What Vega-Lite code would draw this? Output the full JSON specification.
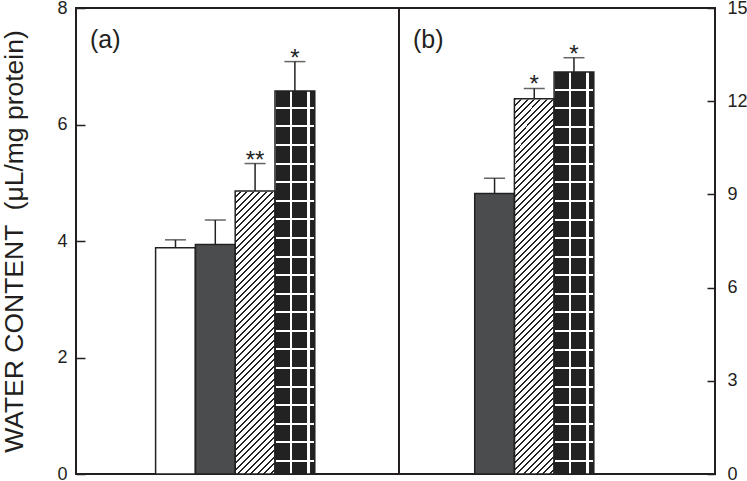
{
  "$schema": "https://vega.github.io/schema/vega-lite/v6.json",
  "background": "white",
  "padding": {"left": 0, "top": -2, "right": 1, "bottom": -1},
  "datasets": {
    "a": [
      {"group": "g1", "value": 3.885, "upper": 4.02, "sig": ""},
      {"group": "g2", "value": 3.94, "upper": 4.36, "sig": ""},
      {"group": "g3", "value": 4.86, "upper": 5.33, "sig": "**"},
      {"group": "g4", "value": 6.575, "upper": 7.08, "sig": "*"}
    ],
    "b": [
      {"group": "g2", "value": 9.03, "upper": 9.52, "sig": ""},
      {"group": "g3", "value": 12.08, "upper": 12.41, "sig": "*"},
      {"group": "g4", "value": 12.94, "upper": 13.4, "sig": "*"}
    ]
  },
  "spacing": 0,
  "bounds": "flush",
  "hconcat": [
    {
      "width": 323,
      "height": 466,
      "title": {"text": "(a)", "anchor": "start", "frame": "group", "orient": "top", "offset": -74, "dx": 14, "fontSize": 25, "fontWeight": "normal", "font": "Liberation Sans", "color": "#231f20", "baseline": "alphabetic"},
      "data": {"name": "a"},
      "layer": [
        {
          "mark": {"type": "bar", "strokeWidth": 0},
          "encoding": {
            "x": {"field": "group", "type": "nominal", "scale": {"domain": ["p1", "p2", "g1", "g2", "g3", "g4", "p3", "p4"], "paddingInner": 0, "paddingOuter": 0.058, "align": 0}, "axis": null},
            "y": {"field": "value", "type": "quantitative", "scale": {"domain": [0, 8], "nice": false}, "axis": {"values": [0, 2, 4, 6, 8], "format": "d", "tickSize": -9, "labelPadding": 18, "title": "WATER CONTENT \u00a0(μL/mg protein)", "titleFontSize": 26.5, "titlePadding": 28}},
            "fill": {"field": "group", "type": "nominal", "scale": {"domain": ["g1", "g2", "g3", "g4"], "range": ["#ffffff", "#4b4c4e", "#ffffff", "#222222"]}, "legend": null}
          }
        },
        {
          "transform": [{"filter": "datum.group === 'g4'"}],
          "mark": {"type": "bar", "strokeWidth": 0, "fill": {"gradient": "linear", "x1": 0, "y1": 0, "x2": 1, "y2": 0, "stops": [
            {"offset": 0, "color": "#222"}, {"offset": 0.365, "color": "#222"}, {"offset": 0.365, "color": "#fff"}, {"offset": 0.42, "color": "#fff"},
            {"offset": 0.42, "color": "#222"}, {"offset": 0.815, "color": "#222"}, {"offset": 0.815, "color": "#fff"}, {"offset": 0.87, "color": "#fff"},
            {"offset": 0.87, "color": "#222"}, {"offset": 1, "color": "#222"}]}},
          "encoding": {"x": {"field": "group", "type": "nominal"}, "y": {"field": "value", "type": "quantitative"}}
        },
        {
          "transform": [{"filter": "datum.group === 'g4'"}],
          "mark": {"type": "bar", "strokeWidth": 0, "fill": {"gradient": "linear", "x1": 0, "y1": 0, "x2": 0, "y2": 1, "stops": [
            {"offset": 0.1616, "color": "rgba(255,255,255,0)"}, {"offset": 0.1616, "color": "#fff"}, {"offset": 0.166, "color": "#fff"}, {"offset": 0.166, "color": "rgba(255,255,255,0)"},
            {"offset": 0.202, "color": "rgba(255,255,255,0)"}, {"offset": 0.202, "color": "#fff"}, {"offset": 0.2064, "color": "#fff"}, {"offset": 0.2064, "color": "rgba(255,255,255,0)"},
            {"offset": 0.2424, "color": "rgba(255,255,255,0)"}, {"offset": 0.2424, "color": "#fff"}, {"offset": 0.2468, "color": "#fff"}, {"offset": 0.2468, "color": "rgba(255,255,255,0)"},
            {"offset": 0.2828, "color": "rgba(255,255,255,0)"}, {"offset": 0.2828, "color": "#fff"}, {"offset": 0.2872, "color": "#fff"}, {"offset": 0.2872, "color": "rgba(255,255,255,0)"},
            {"offset": 0.3232, "color": "rgba(255,255,255,0)"}, {"offset": 0.3232, "color": "#fff"}, {"offset": 0.3276, "color": "#fff"}, {"offset": 0.3276, "color": "rgba(255,255,255,0)"},
            {"offset": 0.3636, "color": "rgba(255,255,255,0)"}, {"offset": 0.3636, "color": "#fff"}, {"offset": 0.368, "color": "#fff"}, {"offset": 0.368, "color": "rgba(255,255,255,0)"},
            {"offset": 0.404, "color": "rgba(255,255,255,0)"}, {"offset": 0.404, "color": "#fff"}, {"offset": 0.4084, "color": "#fff"}, {"offset": 0.4084, "color": "rgba(255,255,255,0)"},
            {"offset": 0.4444, "color": "rgba(255,255,255,0)"}, {"offset": 0.4444, "color": "#fff"}, {"offset": 0.4488, "color": "#fff"}, {"offset": 0.4488, "color": "rgba(255,255,255,0)"},
            {"offset": 0.4848, "color": "rgba(255,255,255,0)"}, {"offset": 0.4848, "color": "#fff"}, {"offset": 0.4892, "color": "#fff"}, {"offset": 0.4892, "color": "rgba(255,255,255,0)"},
            {"offset": 0.5252, "color": "rgba(255,255,255,0)"}, {"offset": 0.5252, "color": "#fff"}, {"offset": 0.5296, "color": "#fff"}, {"offset": 0.5296, "color": "rgba(255,255,255,0)"},
            {"offset": 0.5656, "color": "rgba(255,255,255,0)"}, {"offset": 0.5656, "color": "#fff"}, {"offset": 0.57, "color": "#fff"}, {"offset": 0.57, "color": "rgba(255,255,255,0)"},
            {"offset": 0.606, "color": "rgba(255,255,255,0)"}, {"offset": 0.606, "color": "#fff"}, {"offset": 0.6104, "color": "#fff"}, {"offset": 0.6104, "color": "rgba(255,255,255,0)"},
            {"offset": 0.6464, "color": "rgba(255,255,255,0)"}, {"offset": 0.6464, "color": "#fff"}, {"offset": 0.6508, "color": "#fff"}, {"offset": 0.6508, "color": "rgba(255,255,255,0)"},
            {"offset": 0.6868, "color": "rgba(255,255,255,0)"}, {"offset": 0.6868, "color": "#fff"}, {"offset": 0.6912, "color": "#fff"}, {"offset": 0.6912, "color": "rgba(255,255,255,0)"},
            {"offset": 0.7272, "color": "rgba(255,255,255,0)"}, {"offset": 0.7272, "color": "#fff"}, {"offset": 0.7316, "color": "#fff"}, {"offset": 0.7316, "color": "rgba(255,255,255,0)"},
            {"offset": 0.7676, "color": "rgba(255,255,255,0)"}, {"offset": 0.7676, "color": "#fff"}, {"offset": 0.772, "color": "#fff"}, {"offset": 0.772, "color": "rgba(255,255,255,0)"},
            {"offset": 0.808, "color": "rgba(255,255,255,0)"}, {"offset": 0.808, "color": "#fff"}, {"offset": 0.8124, "color": "#fff"}, {"offset": 0.8124, "color": "rgba(255,255,255,0)"},
            {"offset": 0.8484, "color": "rgba(255,255,255,0)"}, {"offset": 0.8484, "color": "#fff"}, {"offset": 0.8528, "color": "#fff"}, {"offset": 0.8528, "color": "rgba(255,255,255,0)"},
            {"offset": 0.8888, "color": "rgba(255,255,255,0)"}, {"offset": 0.8888, "color": "#fff"}, {"offset": 0.8932, "color": "#fff"}, {"offset": 0.8932, "color": "rgba(255,255,255,0)"},
            {"offset": 0.9292, "color": "rgba(255,255,255,0)"}, {"offset": 0.9292, "color": "#fff"}, {"offset": 0.9336, "color": "#fff"}, {"offset": 0.9336, "color": "rgba(255,255,255,0)"},
            {"offset": 0.9696, "color": "rgba(255,255,255,0)"}, {"offset": 0.9696, "color": "#fff"}, {"offset": 0.974, "color": "#fff"}, {"offset": 0.974, "color": "rgba(255,255,255,0)"}]}},
          "encoding": {"x": {"field": "group", "type": "nominal"}, "y": {"datum": 0, "type": "quantitative"}, "y2": {"datum": 7.9}}
        },
        {
          "transform": [{"filter": "datum.group === 'g3'"}],
          "mark": {"type": "bar", "strokeWidth": 0, "fill": {"gradient": "linear", "x1": 0, "y1": 0, "x2": 0.0933, "y2": 1.0785, "stops": [
            {"offset": 0, "color": "#222"}, {"offset": 0.004, "color": "#222"}, {"offset": 0.004, "color": "#fff"}, {"offset": 0.013, "color": "#fff"},
            {"offset": 0.013, "color": "#222"}, {"offset": 0.017, "color": "#222"}, {"offset": 0.017, "color": "#fff"}, {"offset": 0.026, "color": "#fff"},
            {"offset": 0.026, "color": "#222"}, {"offset": 0.03, "color": "#222"}, {"offset": 0.03, "color": "#fff"}, {"offset": 0.039, "color": "#fff"},
            {"offset": 0.039, "color": "#222"}, {"offset": 0.043, "color": "#222"}, {"offset": 0.043, "color": "#fff"}, {"offset": 0.052, "color": "#fff"},
            {"offset": 0.052, "color": "#222"}, {"offset": 0.056, "color": "#222"}, {"offset": 0.056, "color": "#fff"}, {"offset": 0.065, "color": "#fff"},
            {"offset": 0.065, "color": "#222"}, {"offset": 0.069, "color": "#222"}, {"offset": 0.069, "color": "#fff"}, {"offset": 0.078, "color": "#fff"},
            {"offset": 0.078, "color": "#222"}, {"offset": 0.082, "color": "#222"}, {"offset": 0.082, "color": "#fff"}, {"offset": 0.091, "color": "#fff"},
            {"offset": 0.091, "color": "#222"}, {"offset": 0.095, "color": "#222"}, {"offset": 0.095, "color": "#fff"}, {"offset": 0.104, "color": "#fff"},
            {"offset": 0.104, "color": "#222"}, {"offset": 0.108, "color": "#222"}, {"offset": 0.108, "color": "#fff"}, {"offset": 0.117, "color": "#fff"},
            {"offset": 0.117, "color": "#222"}, {"offset": 0.121, "color": "#222"}, {"offset": 0.121, "color": "#fff"}, {"offset": 0.13, "color": "#fff"},
            {"offset": 0.13, "color": "#222"}, {"offset": 0.134, "color": "#222"}, {"offset": 0.134, "color": "#fff"}, {"offset": 0.143, "color": "#fff"},
            {"offset": 0.143, "color": "#222"}, {"offset": 0.147, "color": "#222"}, {"offset": 0.147, "color": "#fff"}, {"offset": 0.156, "color": "#fff"},
            {"offset": 0.156, "color": "#222"}, {"offset": 0.16, "color": "#222"}, {"offset": 0.16, "color": "#fff"}, {"offset": 0.169, "color": "#fff"},
            {"offset": 0.169, "color": "#222"}, {"offset": 0.173, "color": "#222"}, {"offset": 0.173, "color": "#fff"}, {"offset": 0.182, "color": "#fff"},
            {"offset": 0.182, "color": "#222"}, {"offset": 0.186, "color": "#222"}, {"offset": 0.186, "color": "#fff"}, {"offset": 0.195, "color": "#fff"},
            {"offset": 0.195, "color": "#222"}, {"offset": 0.199, "color": "#222"}, {"offset": 0.199, "color": "#fff"}, {"offset": 0.208, "color": "#fff"},
            {"offset": 0.208, "color": "#222"}, {"offset": 0.212, "color": "#222"}, {"offset": 0.212, "color": "#fff"}, {"offset": 0.221, "color": "#fff"},
            {"offset": 0.221, "color": "#222"}, {"offset": 0.225, "color": "#222"}, {"offset": 0.225, "color": "#fff"}, {"offset": 0.234, "color": "#fff"},
            {"offset": 0.234, "color": "#222"}, {"offset": 0.238, "color": "#222"}, {"offset": 0.238, "color": "#fff"}, {"offset": 0.247, "color": "#fff"},
            {"offset": 0.247, "color": "#222"}, {"offset": 0.251, "color": "#222"}, {"offset": 0.251, "color": "#fff"}, {"offset": 0.26, "color": "#fff"},
            {"offset": 0.26, "color": "#222"}, {"offset": 0.264, "color": "#222"}, {"offset": 0.264, "color": "#fff"}, {"offset": 0.273, "color": "#fff"},
            {"offset": 0.273, "color": "#222"}, {"offset": 0.277, "color": "#222"}, {"offset": 0.277, "color": "#fff"}, {"offset": 0.286, "color": "#fff"},
            {"offset": 0.286, "color": "#222"}, {"offset": 0.29, "color": "#222"}, {"offset": 0.29, "color": "#fff"}, {"offset": 0.299, "color": "#fff"},
            {"offset": 0.299, "color": "#222"}, {"offset": 0.303, "color": "#222"}, {"offset": 0.303, "color": "#fff"}, {"offset": 0.312, "color": "#fff"},
            {"offset": 0.312, "color": "#222"}, {"offset": 0.316, "color": "#222"}, {"offset": 0.316, "color": "#fff"}, {"offset": 0.325, "color": "#fff"},
            {"offset": 0.325, "color": "#222"}, {"offset": 0.329, "color": "#222"}, {"offset": 0.329, "color": "#fff"}, {"offset": 0.338, "color": "#fff"},
            {"offset": 0.338, "color": "#222"}, {"offset": 0.342, "color": "#222"}, {"offset": 0.342, "color": "#fff"}, {"offset": 0.351, "color": "#fff"},
            {"offset": 0.351, "color": "#222"}, {"offset": 0.355, "color": "#222"}, {"offset": 0.355, "color": "#fff"}, {"offset": 0.364, "color": "#fff"},
            {"offset": 0.364, "color": "#222"}, {"offset": 0.368, "color": "#222"}, {"offset": 0.368, "color": "#fff"}, {"offset": 0.377, "color": "#fff"},
            {"offset": 0.377, "color": "#222"}, {"offset": 0.381, "color": "#222"}, {"offset": 0.381, "color": "#fff"}, {"offset": 0.39, "color": "#fff"},
            {"offset": 0.39, "color": "#222"}, {"offset": 0.394, "color": "#222"}, {"offset": 0.394, "color": "#fff"}, {"offset": 0.403, "color": "#fff"},
            {"offset": 0.403, "color": "#222"}, {"offset": 0.407, "color": "#222"}, {"offset": 0.407, "color": "#fff"}, {"offset": 0.416, "color": "#fff"},
            {"offset": 0.416, "color": "#222"}, {"offset": 0.42, "color": "#222"}, {"offset": 0.42, "color": "#fff"}, {"offset": 0.429, "color": "#fff"},
            {"offset": 0.429, "color": "#222"}, {"offset": 0.433, "color": "#222"}, {"offset": 0.433, "color": "#fff"}, {"offset": 0.442, "color": "#fff"},
            {"offset": 0.442, "color": "#222"}, {"offset": 0.446, "color": "#222"}, {"offset": 0.446, "color": "#fff"}, {"offset": 0.455, "color": "#fff"},
            {"offset": 0.455, "color": "#222"}, {"offset": 0.459, "color": "#222"}, {"offset": 0.459, "color": "#fff"}, {"offset": 0.468, "color": "#fff"},
            {"offset": 0.468, "color": "#222"}, {"offset": 0.472, "color": "#222"}, {"offset": 0.472, "color": "#fff"}, {"offset": 0.481, "color": "#fff"},
            {"offset": 0.481, "color": "#222"}, {"offset": 0.485, "color": "#222"}, {"offset": 0.485, "color": "#fff"}, {"offset": 0.494, "color": "#fff"},
            {"offset": 0.494, "color": "#222"}, {"offset": 0.498, "color": "#222"}, {"offset": 0.498, "color": "#fff"}, {"offset": 0.507, "color": "#fff"},
            {"offset": 0.507, "color": "#222"}, {"offset": 0.511, "color": "#222"}, {"offset": 0.511, "color": "#fff"}, {"offset": 0.52, "color": "#fff"},
            {"offset": 0.52, "color": "#222"}, {"offset": 0.524, "color": "#222"}, {"offset": 0.524, "color": "#fff"}, {"offset": 0.533, "color": "#fff"},
            {"offset": 0.533, "color": "#222"}, {"offset": 0.537, "color": "#222"}, {"offset": 0.537, "color": "#fff"}, {"offset": 0.546, "color": "#fff"},
            {"offset": 0.546, "color": "#222"}, {"offset": 0.55, "color": "#222"}, {"offset": 0.55, "color": "#fff"}, {"offset": 0.559, "color": "#fff"},
            {"offset": 0.559, "color": "#222"}, {"offset": 0.563, "color": "#222"}, {"offset": 0.563, "color": "#fff"}, {"offset": 0.572, "color": "#fff"},
            {"offset": 0.572, "color": "#222"}, {"offset": 0.576, "color": "#222"}, {"offset": 0.576, "color": "#fff"}, {"offset": 0.585, "color": "#fff"},
            {"offset": 0.585, "color": "#222"}, {"offset": 0.589, "color": "#222"}, {"offset": 0.589, "color": "#fff"}, {"offset": 0.598, "color": "#fff"},
            {"offset": 0.598, "color": "#222"}, {"offset": 0.602, "color": "#222"}, {"offset": 0.602, "color": "#fff"}, {"offset": 0.611, "color": "#fff"},
            {"offset": 0.611, "color": "#222"}, {"offset": 0.615, "color": "#222"}, {"offset": 0.615, "color": "#fff"}, {"offset": 0.624, "color": "#fff"},
            {"offset": 0.624, "color": "#222"}, {"offset": 0.628, "color": "#222"}, {"offset": 0.628, "color": "#fff"}, {"offset": 0.637, "color": "#fff"},
            {"offset": 0.637, "color": "#222"}, {"offset": 0.641, "color": "#222"}, {"offset": 0.641, "color": "#fff"}, {"offset": 0.65, "color": "#fff"},
            {"offset": 0.65, "color": "#222"}, {"offset": 0.654, "color": "#222"}, {"offset": 0.654, "color": "#fff"}, {"offset": 0.663, "color": "#fff"},
            {"offset": 0.663, "color": "#222"}, {"offset": 0.667, "color": "#222"}, {"offset": 0.667, "color": "#fff"}, {"offset": 0.676, "color": "#fff"},
            {"offset": 0.676, "color": "#222"}, {"offset": 0.68, "color": "#222"}, {"offset": 0.68, "color": "#fff"}, {"offset": 0.689, "color": "#fff"},
            {"offset": 0.689, "color": "#222"}, {"offset": 0.693, "color": "#222"}, {"offset": 0.693, "color": "#fff"}, {"offset": 0.702, "color": "#fff"},
            {"offset": 0.702, "color": "#222"}, {"offset": 0.706, "color": "#222"}, {"offset": 0.706, "color": "#fff"}, {"offset": 0.715, "color": "#fff"},
            {"offset": 0.715, "color": "#222"}, {"offset": 0.719, "color": "#222"}, {"offset": 0.719, "color": "#fff"}, {"offset": 0.728, "color": "#fff"},
            {"offset": 0.728, "color": "#222"}, {"offset": 0.732, "color": "#222"}, {"offset": 0.732, "color": "#fff"}, {"offset": 0.741, "color": "#fff"},
            {"offset": 0.741, "color": "#222"}, {"offset": 0.745, "color": "#222"}, {"offset": 0.745, "color": "#fff"}, {"offset": 0.754, "color": "#fff"},
            {"offset": 0.754, "color": "#222"}, {"offset": 0.758, "color": "#222"}, {"offset": 0.758, "color": "#fff"}, {"offset": 0.767, "color": "#fff"},
            {"offset": 0.767, "color": "#222"}, {"offset": 0.771, "color": "#222"}, {"offset": 0.771, "color": "#fff"}, {"offset": 0.78, "color": "#fff"},
            {"offset": 0.78, "color": "#222"}, {"offset": 0.784, "color": "#222"}, {"offset": 0.784, "color": "#fff"}, {"offset": 0.793, "color": "#fff"},
            {"offset": 0.793, "color": "#222"}, {"offset": 0.797, "color": "#222"}, {"offset": 0.797, "color": "#fff"}, {"offset": 0.806, "color": "#fff"},
            {"offset": 0.806, "color": "#222"}, {"offset": 0.81, "color": "#222"}, {"offset": 0.81, "color": "#fff"}, {"offset": 0.819, "color": "#fff"},
            {"offset": 0.819, "color": "#222"}, {"offset": 0.823, "color": "#222"}, {"offset": 0.823, "color": "#fff"}, {"offset": 0.832, "color": "#fff"},
            {"offset": 0.832, "color": "#222"}, {"offset": 0.836, "color": "#222"}, {"offset": 0.836, "color": "#fff"}, {"offset": 0.845, "color": "#fff"},
            {"offset": 0.845, "color": "#222"}, {"offset": 0.849, "color": "#222"}, {"offset": 0.849, "color": "#fff"}, {"offset": 0.858, "color": "#fff"},
            {"offset": 0.858, "color": "#222"}, {"offset": 0.862, "color": "#222"}, {"offset": 0.862, "color": "#fff"}, {"offset": 0.871, "color": "#fff"},
            {"offset": 0.871, "color": "#222"}, {"offset": 0.875, "color": "#222"}, {"offset": 0.875, "color": "#fff"}, {"offset": 0.884, "color": "#fff"},
            {"offset": 0.884, "color": "#222"}, {"offset": 0.888, "color": "#222"}, {"offset": 0.888, "color": "#fff"}, {"offset": 0.897, "color": "#fff"},
            {"offset": 0.897, "color": "#222"}, {"offset": 0.901, "color": "#222"}, {"offset": 0.901, "color": "#fff"}, {"offset": 0.91, "color": "#fff"},
            {"offset": 0.91, "color": "#222"}, {"offset": 0.914, "color": "#222"}, {"offset": 0.914, "color": "#fff"}, {"offset": 0.923, "color": "#fff"},
            {"offset": 0.923, "color": "#222"}, {"offset": 0.927, "color": "#222"}, {"offset": 0.927, "color": "#fff"}, {"offset": 0.936, "color": "#fff"},
            {"offset": 0.936, "color": "#222"}, {"offset": 0.94, "color": "#222"}, {"offset": 0.94, "color": "#fff"}, {"offset": 0.949, "color": "#fff"},
            {"offset": 0.949, "color": "#222"}, {"offset": 0.953, "color": "#222"}, {"offset": 0.953, "color": "#fff"}, {"offset": 0.962, "color": "#fff"},
            {"offset": 0.962, "color": "#222"}, {"offset": 0.966, "color": "#222"}, {"offset": 0.966, "color": "#fff"}, {"offset": 0.975, "color": "#fff"},
            {"offset": 0.975, "color": "#222"}, {"offset": 0.979, "color": "#222"}, {"offset": 0.979, "color": "#fff"}, {"offset": 0.988, "color": "#fff"},
            {"offset": 0.988, "color": "#222"}, {"offset": 0.992, "color": "#222"}, {"offset": 0.992, "color": "#fff"}, {"offset": 1, "color": "#fff"}]}},
          "encoding": {"x": {"field": "group", "type": "nominal"}, "y": {"datum": 0, "type": "quantitative"}, "y2": {"datum": 7.9}}
        },
        {
          "transform": [{"filter": "datum.group === 'g3'"}],
          "mark": {"type": "bar", "fill": "#ffffff", "stroke": "#ffffff", "strokeWidth": 1.5},
          "encoding": {"x": {"field": "group", "type": "nominal"}, "y": {"field": "value", "type": "quantitative"}, "y2": {"datum": 7.9}}
        },
        {
          "mark": {"type": "bar", "fill": "transparent", "stroke": "#222", "strokeWidth": 1.5},
          "encoding": {"x": {"field": "group", "type": "nominal"}, "y": {"field": "value", "type": "quantitative"}}
        },
        {
          "mark": {"type": "rule", "color": "#222", "strokeWidth": 1.5},
          "encoding": {"x": {"field": "group", "type": "nominal"}, "y": {"field": "value", "type": "quantitative"}, "y2": {"field": "upper"}}
        },
        {
          "mark": {"type": "tick", "color": "#222", "thickness": 1.5, "size": 21},
          "encoding": {"x": {"field": "group", "type": "nominal"}, "y": {"field": "upper", "type": "quantitative"}}
        },
        {
          "mark": {"type": "text", "fontSize": 24, "dy": 4, "baseline": "alphabetic", "color": "#222", "font": "Liberation Sans"},
          "encoding": {"x": {"field": "group", "type": "nominal"}, "y": {"field": "upper", "type": "quantitative"}, "text": {"field": "sig"}}
        }
      ]
    },
    {
      "width": 316,
      "height": 466,
      "title": {"text": "(b)", "anchor": "start", "frame": "group", "orient": "top", "offset": -74, "dx": 14, "fontSize": 25, "fontWeight": "normal", "font": "Liberation Sans", "color": "#231f20", "baseline": "alphabetic"},
      "data": {"name": "b"},
      "layer": [
        {
          "mark": {"type": "bar", "strokeWidth": 0},
          "encoding": {
            "x": {"field": "group", "type": "nominal", "scale": {"domain": ["q1", "g2", "g3", "g4", "q2", "q3", "q4"], "paddingInner": 0, "paddingOuter": 0.48, "align": 0.945}, "axis": null},
            "y": {"field": "value", "type": "quantitative", "scale": {"domain": [0, 15], "nice": false}, "axis": {"orient": "right", "values": [0, 3, 6, 9, 12, 15], "format": "d", "tickSize": -8, "labelPadding": 20, "title": null}},
            "fill": {"field": "group", "type": "nominal", "scale": {"domain": ["g2", "g3", "g4"], "range": ["#4b4c4e", "#ffffff", "#222222"]}, "legend": null}
          }
        },
        {
          "transform": [{"filter": "datum.group === 'g4'"}],
          "mark": {"type": "bar", "strokeWidth": 0, "fill": {"gradient": "linear", "x1": 0, "y1": 0, "x2": 1, "y2": 0, "stops": [
            {"offset": 0, "color": "#222"}, {"offset": 0.365, "color": "#222"}, {"offset": 0.365, "color": "#fff"}, {"offset": 0.42, "color": "#fff"},
            {"offset": 0.42, "color": "#222"}, {"offset": 0.815, "color": "#222"}, {"offset": 0.815, "color": "#fff"}, {"offset": 0.87, "color": "#fff"},
            {"offset": 0.87, "color": "#222"}, {"offset": 1, "color": "#222"}]}},
          "encoding": {"x": {"field": "group", "type": "nominal"}, "y": {"field": "value", "type": "quantitative"}}
        },
        {
          "transform": [{"filter": "datum.group === 'g4'"}],
          "mark": {"type": "bar", "strokeWidth": 0, "fill": {"gradient": "linear", "x1": 0, "y1": 0, "x2": 0, "y2": 1, "stops": [
            {"offset": 0.1616, "color": "rgba(255,255,255,0)"}, {"offset": 0.1616, "color": "#fff"}, {"offset": 0.166, "color": "#fff"}, {"offset": 0.166, "color": "rgba(255,255,255,0)"},
            {"offset": 0.202, "color": "rgba(255,255,255,0)"}, {"offset": 0.202, "color": "#fff"}, {"offset": 0.2064, "color": "#fff"}, {"offset": 0.2064, "color": "rgba(255,255,255,0)"},
            {"offset": 0.2424, "color": "rgba(255,255,255,0)"}, {"offset": 0.2424, "color": "#fff"}, {"offset": 0.2468, "color": "#fff"}, {"offset": 0.2468, "color": "rgba(255,255,255,0)"},
            {"offset": 0.2828, "color": "rgba(255,255,255,0)"}, {"offset": 0.2828, "color": "#fff"}, {"offset": 0.2872, "color": "#fff"}, {"offset": 0.2872, "color": "rgba(255,255,255,0)"},
            {"offset": 0.3232, "color": "rgba(255,255,255,0)"}, {"offset": 0.3232, "color": "#fff"}, {"offset": 0.3276, "color": "#fff"}, {"offset": 0.3276, "color": "rgba(255,255,255,0)"},
            {"offset": 0.3636, "color": "rgba(255,255,255,0)"}, {"offset": 0.3636, "color": "#fff"}, {"offset": 0.368, "color": "#fff"}, {"offset": 0.368, "color": "rgba(255,255,255,0)"},
            {"offset": 0.404, "color": "rgba(255,255,255,0)"}, {"offset": 0.404, "color": "#fff"}, {"offset": 0.4084, "color": "#fff"}, {"offset": 0.4084, "color": "rgba(255,255,255,0)"},
            {"offset": 0.4444, "color": "rgba(255,255,255,0)"}, {"offset": 0.4444, "color": "#fff"}, {"offset": 0.4488, "color": "#fff"}, {"offset": 0.4488, "color": "rgba(255,255,255,0)"},
            {"offset": 0.4848, "color": "rgba(255,255,255,0)"}, {"offset": 0.4848, "color": "#fff"}, {"offset": 0.4892, "color": "#fff"}, {"offset": 0.4892, "color": "rgba(255,255,255,0)"},
            {"offset": 0.5252, "color": "rgba(255,255,255,0)"}, {"offset": 0.5252, "color": "#fff"}, {"offset": 0.5296, "color": "#fff"}, {"offset": 0.5296, "color": "rgba(255,255,255,0)"},
            {"offset": 0.5656, "color": "rgba(255,255,255,0)"}, {"offset": 0.5656, "color": "#fff"}, {"offset": 0.57, "color": "#fff"}, {"offset": 0.57, "color": "rgba(255,255,255,0)"},
            {"offset": 0.606, "color": "rgba(255,255,255,0)"}, {"offset": 0.606, "color": "#fff"}, {"offset": 0.6104, "color": "#fff"}, {"offset": 0.6104, "color": "rgba(255,255,255,0)"},
            {"offset": 0.6464, "color": "rgba(255,255,255,0)"}, {"offset": 0.6464, "color": "#fff"}, {"offset": 0.6508, "color": "#fff"}, {"offset": 0.6508, "color": "rgba(255,255,255,0)"},
            {"offset": 0.6868, "color": "rgba(255,255,255,0)"}, {"offset": 0.6868, "color": "#fff"}, {"offset": 0.6912, "color": "#fff"}, {"offset": 0.6912, "color": "rgba(255,255,255,0)"},
            {"offset": 0.7272, "color": "rgba(255,255,255,0)"}, {"offset": 0.7272, "color": "#fff"}, {"offset": 0.7316, "color": "#fff"}, {"offset": 0.7316, "color": "rgba(255,255,255,0)"},
            {"offset": 0.7676, "color": "rgba(255,255,255,0)"}, {"offset": 0.7676, "color": "#fff"}, {"offset": 0.772, "color": "#fff"}, {"offset": 0.772, "color": "rgba(255,255,255,0)"},
            {"offset": 0.808, "color": "rgba(255,255,255,0)"}, {"offset": 0.808, "color": "#fff"}, {"offset": 0.8124, "color": "#fff"}, {"offset": 0.8124, "color": "rgba(255,255,255,0)"},
            {"offset": 0.8484, "color": "rgba(255,255,255,0)"}, {"offset": 0.8484, "color": "#fff"}, {"offset": 0.8528, "color": "#fff"}, {"offset": 0.8528, "color": "rgba(255,255,255,0)"},
            {"offset": 0.8888, "color": "rgba(255,255,255,0)"}, {"offset": 0.8888, "color": "#fff"}, {"offset": 0.8932, "color": "#fff"}, {"offset": 0.8932, "color": "rgba(255,255,255,0)"},
            {"offset": 0.9292, "color": "rgba(255,255,255,0)"}, {"offset": 0.9292, "color": "#fff"}, {"offset": 0.9336, "color": "#fff"}, {"offset": 0.9336, "color": "rgba(255,255,255,0)"},
            {"offset": 0.9696, "color": "rgba(255,255,255,0)"}, {"offset": 0.9696, "color": "#fff"}, {"offset": 0.974, "color": "#fff"}, {"offset": 0.974, "color": "rgba(255,255,255,0)"}]}},
          "encoding": {"x": {"field": "group", "type": "nominal"}, "y": {"datum": 0, "type": "quantitative"}, "y2": {"datum": 14.8}}
        },
        {
          "transform": [{"filter": "datum.group === 'g3'"}],
          "mark": {"type": "bar", "strokeWidth": 0, "fill": {"gradient": "linear", "x1": 0, "y1": 0, "x2": 0.0933, "y2": 1.0785, "stops": [
            {"offset": 0, "color": "#222"}, {"offset": 0.004, "color": "#222"}, {"offset": 0.004, "color": "#fff"}, {"offset": 0.013, "color": "#fff"},
            {"offset": 0.013, "color": "#222"}, {"offset": 0.017, "color": "#222"}, {"offset": 0.017, "color": "#fff"}, {"offset": 0.026, "color": "#fff"},
            {"offset": 0.026, "color": "#222"}, {"offset": 0.03, "color": "#222"}, {"offset": 0.03, "color": "#fff"}, {"offset": 0.039, "color": "#fff"},
            {"offset": 0.039, "color": "#222"}, {"offset": 0.043, "color": "#222"}, {"offset": 0.043, "color": "#fff"}, {"offset": 0.052, "color": "#fff"},
            {"offset": 0.052, "color": "#222"}, {"offset": 0.056, "color": "#222"}, {"offset": 0.056, "color": "#fff"}, {"offset": 0.065, "color": "#fff"},
            {"offset": 0.065, "color": "#222"}, {"offset": 0.069, "color": "#222"}, {"offset": 0.069, "color": "#fff"}, {"offset": 0.078, "color": "#fff"},
            {"offset": 0.078, "color": "#222"}, {"offset": 0.082, "color": "#222"}, {"offset": 0.082, "color": "#fff"}, {"offset": 0.091, "color": "#fff"},
            {"offset": 0.091, "color": "#222"}, {"offset": 0.095, "color": "#222"}, {"offset": 0.095, "color": "#fff"}, {"offset": 0.104, "color": "#fff"},
            {"offset": 0.104, "color": "#222"}, {"offset": 0.108, "color": "#222"}, {"offset": 0.108, "color": "#fff"}, {"offset": 0.117, "color": "#fff"},
            {"offset": 0.117, "color": "#222"}, {"offset": 0.121, "color": "#222"}, {"offset": 0.121, "color": "#fff"}, {"offset": 0.13, "color": "#fff"},
            {"offset": 0.13, "color": "#222"}, {"offset": 0.134, "color": "#222"}, {"offset": 0.134, "color": "#fff"}, {"offset": 0.143, "color": "#fff"},
            {"offset": 0.143, "color": "#222"}, {"offset": 0.147, "color": "#222"}, {"offset": 0.147, "color": "#fff"}, {"offset": 0.156, "color": "#fff"},
            {"offset": 0.156, "color": "#222"}, {"offset": 0.16, "color": "#222"}, {"offset": 0.16, "color": "#fff"}, {"offset": 0.169, "color": "#fff"},
            {"offset": 0.169, "color": "#222"}, {"offset": 0.173, "color": "#222"}, {"offset": 0.173, "color": "#fff"}, {"offset": 0.182, "color": "#fff"},
            {"offset": 0.182, "color": "#222"}, {"offset": 0.186, "color": "#222"}, {"offset": 0.186, "color": "#fff"}, {"offset": 0.195, "color": "#fff"},
            {"offset": 0.195, "color": "#222"}, {"offset": 0.199, "color": "#222"}, {"offset": 0.199, "color": "#fff"}, {"offset": 0.208, "color": "#fff"},
            {"offset": 0.208, "color": "#222"}, {"offset": 0.212, "color": "#222"}, {"offset": 0.212, "color": "#fff"}, {"offset": 0.221, "color": "#fff"},
            {"offset": 0.221, "color": "#222"}, {"offset": 0.225, "color": "#222"}, {"offset": 0.225, "color": "#fff"}, {"offset": 0.234, "color": "#fff"},
            {"offset": 0.234, "color": "#222"}, {"offset": 0.238, "color": "#222"}, {"offset": 0.238, "color": "#fff"}, {"offset": 0.247, "color": "#fff"},
            {"offset": 0.247, "color": "#222"}, {"offset": 0.251, "color": "#222"}, {"offset": 0.251, "color": "#fff"}, {"offset": 0.26, "color": "#fff"},
            {"offset": 0.26, "color": "#222"}, {"offset": 0.264, "color": "#222"}, {"offset": 0.264, "color": "#fff"}, {"offset": 0.273, "color": "#fff"},
            {"offset": 0.273, "color": "#222"}, {"offset": 0.277, "color": "#222"}, {"offset": 0.277, "color": "#fff"}, {"offset": 0.286, "color": "#fff"},
            {"offset": 0.286, "color": "#222"}, {"offset": 0.29, "color": "#222"}, {"offset": 0.29, "color": "#fff"}, {"offset": 0.299, "color": "#fff"},
            {"offset": 0.299, "color": "#222"}, {"offset": 0.303, "color": "#222"}, {"offset": 0.303, "color": "#fff"}, {"offset": 0.312, "color": "#fff"},
            {"offset": 0.312, "color": "#222"}, {"offset": 0.316, "color": "#222"}, {"offset": 0.316, "color": "#fff"}, {"offset": 0.325, "color": "#fff"},
            {"offset": 0.325, "color": "#222"}, {"offset": 0.329, "color": "#222"}, {"offset": 0.329, "color": "#fff"}, {"offset": 0.338, "color": "#fff"},
            {"offset": 0.338, "color": "#222"}, {"offset": 0.342, "color": "#222"}, {"offset": 0.342, "color": "#fff"}, {"offset": 0.351, "color": "#fff"},
            {"offset": 0.351, "color": "#222"}, {"offset": 0.355, "color": "#222"}, {"offset": 0.355, "color": "#fff"}, {"offset": 0.364, "color": "#fff"},
            {"offset": 0.364, "color": "#222"}, {"offset": 0.368, "color": "#222"}, {"offset": 0.368, "color": "#fff"}, {"offset": 0.377, "color": "#fff"},
            {"offset": 0.377, "color": "#222"}, {"offset": 0.381, "color": "#222"}, {"offset": 0.381, "color": "#fff"}, {"offset": 0.39, "color": "#fff"},
            {"offset": 0.39, "color": "#222"}, {"offset": 0.394, "color": "#222"}, {"offset": 0.394, "color": "#fff"}, {"offset": 0.403, "color": "#fff"},
            {"offset": 0.403, "color": "#222"}, {"offset": 0.407, "color": "#222"}, {"offset": 0.407, "color": "#fff"}, {"offset": 0.416, "color": "#fff"},
            {"offset": 0.416, "color": "#222"}, {"offset": 0.42, "color": "#222"}, {"offset": 0.42, "color": "#fff"}, {"offset": 0.429, "color": "#fff"},
            {"offset": 0.429, "color": "#222"}, {"offset": 0.433, "color": "#222"}, {"offset": 0.433, "color": "#fff"}, {"offset": 0.442, "color": "#fff"},
            {"offset": 0.442, "color": "#222"}, {"offset": 0.446, "color": "#222"}, {"offset": 0.446, "color": "#fff"}, {"offset": 0.455, "color": "#fff"},
            {"offset": 0.455, "color": "#222"}, {"offset": 0.459, "color": "#222"}, {"offset": 0.459, "color": "#fff"}, {"offset": 0.468, "color": "#fff"},
            {"offset": 0.468, "color": "#222"}, {"offset": 0.472, "color": "#222"}, {"offset": 0.472, "color": "#fff"}, {"offset": 0.481, "color": "#fff"},
            {"offset": 0.481, "color": "#222"}, {"offset": 0.485, "color": "#222"}, {"offset": 0.485, "color": "#fff"}, {"offset": 0.494, "color": "#fff"},
            {"offset": 0.494, "color": "#222"}, {"offset": 0.498, "color": "#222"}, {"offset": 0.498, "color": "#fff"}, {"offset": 0.507, "color": "#fff"},
            {"offset": 0.507, "color": "#222"}, {"offset": 0.511, "color": "#222"}, {"offset": 0.511, "color": "#fff"}, {"offset": 0.52, "color": "#fff"},
            {"offset": 0.52, "color": "#222"}, {"offset": 0.524, "color": "#222"}, {"offset": 0.524, "color": "#fff"}, {"offset": 0.533, "color": "#fff"},
            {"offset": 0.533, "color": "#222"}, {"offset": 0.537, "color": "#222"}, {"offset": 0.537, "color": "#fff"}, {"offset": 0.546, "color": "#fff"},
            {"offset": 0.546, "color": "#222"}, {"offset": 0.55, "color": "#222"}, {"offset": 0.55, "color": "#fff"}, {"offset": 0.559, "color": "#fff"},
            {"offset": 0.559, "color": "#222"}, {"offset": 0.563, "color": "#222"}, {"offset": 0.563, "color": "#fff"}, {"offset": 0.572, "color": "#fff"},
            {"offset": 0.572, "color": "#222"}, {"offset": 0.576, "color": "#222"}, {"offset": 0.576, "color": "#fff"}, {"offset": 0.585, "color": "#fff"},
            {"offset": 0.585, "color": "#222"}, {"offset": 0.589, "color": "#222"}, {"offset": 0.589, "color": "#fff"}, {"offset": 0.598, "color": "#fff"},
            {"offset": 0.598, "color": "#222"}, {"offset": 0.602, "color": "#222"}, {"offset": 0.602, "color": "#fff"}, {"offset": 0.611, "color": "#fff"},
            {"offset": 0.611, "color": "#222"}, {"offset": 0.615, "color": "#222"}, {"offset": 0.615, "color": "#fff"}, {"offset": 0.624, "color": "#fff"},
            {"offset": 0.624, "color": "#222"}, {"offset": 0.628, "color": "#222"}, {"offset": 0.628, "color": "#fff"}, {"offset": 0.637, "color": "#fff"},
            {"offset": 0.637, "color": "#222"}, {"offset": 0.641, "color": "#222"}, {"offset": 0.641, "color": "#fff"}, {"offset": 0.65, "color": "#fff"},
            {"offset": 0.65, "color": "#222"}, {"offset": 0.654, "color": "#222"}, {"offset": 0.654, "color": "#fff"}, {"offset": 0.663, "color": "#fff"},
            {"offset": 0.663, "color": "#222"}, {"offset": 0.667, "color": "#222"}, {"offset": 0.667, "color": "#fff"}, {"offset": 0.676, "color": "#fff"},
            {"offset": 0.676, "color": "#222"}, {"offset": 0.68, "color": "#222"}, {"offset": 0.68, "color": "#fff"}, {"offset": 0.689, "color": "#fff"},
            {"offset": 0.689, "color": "#222"}, {"offset": 0.693, "color": "#222"}, {"offset": 0.693, "color": "#fff"}, {"offset": 0.702, "color": "#fff"},
            {"offset": 0.702, "color": "#222"}, {"offset": 0.706, "color": "#222"}, {"offset": 0.706, "color": "#fff"}, {"offset": 0.715, "color": "#fff"},
            {"offset": 0.715, "color": "#222"}, {"offset": 0.719, "color": "#222"}, {"offset": 0.719, "color": "#fff"}, {"offset": 0.728, "color": "#fff"},
            {"offset": 0.728, "color": "#222"}, {"offset": 0.732, "color": "#222"}, {"offset": 0.732, "color": "#fff"}, {"offset": 0.741, "color": "#fff"},
            {"offset": 0.741, "color": "#222"}, {"offset": 0.745, "color": "#222"}, {"offset": 0.745, "color": "#fff"}, {"offset": 0.754, "color": "#fff"},
            {"offset": 0.754, "color": "#222"}, {"offset": 0.758, "color": "#222"}, {"offset": 0.758, "color": "#fff"}, {"offset": 0.767, "color": "#fff"},
            {"offset": 0.767, "color": "#222"}, {"offset": 0.771, "color": "#222"}, {"offset": 0.771, "color": "#fff"}, {"offset": 0.78, "color": "#fff"},
            {"offset": 0.78, "color": "#222"}, {"offset": 0.784, "color": "#222"}, {"offset": 0.784, "color": "#fff"}, {"offset": 0.793, "color": "#fff"},
            {"offset": 0.793, "color": "#222"}, {"offset": 0.797, "color": "#222"}, {"offset": 0.797, "color": "#fff"}, {"offset": 0.806, "color": "#fff"},
            {"offset": 0.806, "color": "#222"}, {"offset": 0.81, "color": "#222"}, {"offset": 0.81, "color": "#fff"}, {"offset": 0.819, "color": "#fff"},
            {"offset": 0.819, "color": "#222"}, {"offset": 0.823, "color": "#222"}, {"offset": 0.823, "color": "#fff"}, {"offset": 0.832, "color": "#fff"},
            {"offset": 0.832, "color": "#222"}, {"offset": 0.836, "color": "#222"}, {"offset": 0.836, "color": "#fff"}, {"offset": 0.845, "color": "#fff"},
            {"offset": 0.845, "color": "#222"}, {"offset": 0.849, "color": "#222"}, {"offset": 0.849, "color": "#fff"}, {"offset": 0.858, "color": "#fff"},
            {"offset": 0.858, "color": "#222"}, {"offset": 0.862, "color": "#222"}, {"offset": 0.862, "color": "#fff"}, {"offset": 0.871, "color": "#fff"},
            {"offset": 0.871, "color": "#222"}, {"offset": 0.875, "color": "#222"}, {"offset": 0.875, "color": "#fff"}, {"offset": 0.884, "color": "#fff"},
            {"offset": 0.884, "color": "#222"}, {"offset": 0.888, "color": "#222"}, {"offset": 0.888, "color": "#fff"}, {"offset": 0.897, "color": "#fff"},
            {"offset": 0.897, "color": "#222"}, {"offset": 0.901, "color": "#222"}, {"offset": 0.901, "color": "#fff"}, {"offset": 0.91, "color": "#fff"},
            {"offset": 0.91, "color": "#222"}, {"offset": 0.914, "color": "#222"}, {"offset": 0.914, "color": "#fff"}, {"offset": 0.923, "color": "#fff"},
            {"offset": 0.923, "color": "#222"}, {"offset": 0.927, "color": "#222"}, {"offset": 0.927, "color": "#fff"}, {"offset": 0.936, "color": "#fff"},
            {"offset": 0.936, "color": "#222"}, {"offset": 0.94, "color": "#222"}, {"offset": 0.94, "color": "#fff"}, {"offset": 0.949, "color": "#fff"},
            {"offset": 0.949, "color": "#222"}, {"offset": 0.953, "color": "#222"}, {"offset": 0.953, "color": "#fff"}, {"offset": 0.962, "color": "#fff"},
            {"offset": 0.962, "color": "#222"}, {"offset": 0.966, "color": "#222"}, {"offset": 0.966, "color": "#fff"}, {"offset": 0.975, "color": "#fff"},
            {"offset": 0.975, "color": "#222"}, {"offset": 0.979, "color": "#222"}, {"offset": 0.979, "color": "#fff"}, {"offset": 0.988, "color": "#fff"},
            {"offset": 0.988, "color": "#222"}, {"offset": 0.992, "color": "#222"}, {"offset": 0.992, "color": "#fff"}, {"offset": 1, "color": "#fff"}]}},
          "encoding": {"x": {"field": "group", "type": "nominal"}, "y": {"datum": 0, "type": "quantitative"}, "y2": {"datum": 14.8}}
        },
        {
          "transform": [{"filter": "datum.group === 'g3'"}],
          "mark": {"type": "bar", "fill": "#ffffff", "stroke": "#ffffff", "strokeWidth": 1.5},
          "encoding": {"x": {"field": "group", "type": "nominal"}, "y": {"field": "value", "type": "quantitative"}, "y2": {"datum": 14.8}}
        },
        {
          "mark": {"type": "bar", "fill": "transparent", "stroke": "#222", "strokeWidth": 1.5},
          "encoding": {"x": {"field": "group", "type": "nominal"}, "y": {"field": "value", "type": "quantitative"}}
        },
        {
          "mark": {"type": "rule", "color": "#222", "strokeWidth": 1.5},
          "encoding": {"x": {"field": "group", "type": "nominal"}, "y": {"field": "value", "type": "quantitative"}, "y2": {"field": "upper"}}
        },
        {
          "mark": {"type": "tick", "color": "#222", "thickness": 1.5, "size": 21},
          "encoding": {"x": {"field": "group", "type": "nominal"}, "y": {"field": "upper", "type": "quantitative"}}
        },
        {
          "mark": {"type": "text", "fontSize": 24, "dy": 4, "baseline": "alphabetic", "color": "#222", "font": "Liberation Sans"},
          "encoding": {"x": {"field": "group", "type": "nominal"}, "y": {"field": "upper", "type": "quantitative"}, "text": {"field": "sig"}}
        }
      ]
    }
  ],
  "config": {
    "view": {"stroke": "#231f20", "strokeWidth": 2},
    "font": "Liberation Sans",
    "axis": {"domain": false, "grid": false, "tickColor": "#231f20", "tickWidth": 1.5, "labelColor": "#231f20", "labelFontSize": 18, "labelFont": "Liberation Sans", "titleColor": "#231f20", "titleFont": "Liberation Sans", "titleFontWeight": "normal"}
  }
}
